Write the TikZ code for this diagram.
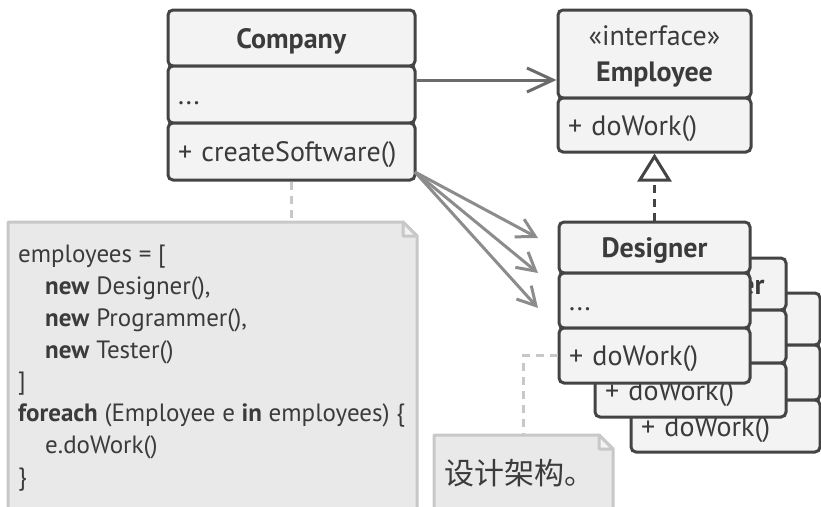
\documentclass[tikz,border=0pt]{standalone}
\usepackage{fontspec}
\setmainfont{PT Sans}
\newfontfamily\cjkfont{Noto Sans CJK SC}
\usetikzlibrary{arrows.meta}
\definecolor{boxfill}{HTML}{F3F3F3}
\definecolor{boxline}{HTML}{444444}
\definecolor{txt}{HTML}{3B3B3B}
\definecolor{arrdark}{HTML}{6B6B6B}
\definecolor{arr}{HTML}{8C8C8C}
\definecolor{notefill}{HTML}{E9E9E9}
\definecolor{noteline}{HTML}{C8C8C8}
\definecolor{foldfill}{HTML}{F2F2F2}
\begin{document}
\begin{tikzpicture}[x=1pt,y=-1pt,
  compbase/.style={draw=boxline, fill=boxfill, line width=3pt, rounded corners=5pt,
    inner sep=0pt, text=txt},
  comp/.style={compbase, font=\fontsize{28}{34}\selectfont, text height=22pt, text depth=2pt},
  lcomp/.style={comp, align=left, text width=#1},
  notebody/.style={draw=noteline, fill=notefill, line width=3pt, line join=round},
  notefold/.style={draw=noteline, fill=foldfill, line width=3pt, line join=round},
  notetext/.style={text=txt, inner sep=0pt, align=left},
  assoc/.style={draw=arrdark, line width=3pt, -{Straight Barb[length=26pt,width=24pt]}},
  assocb/.style={draw=arr, line width=3pt, -{Straight Barb[length=18pt,width=20pt]}},
  realize/.style={draw=boxline, line width=3pt, dash pattern=on 8pt off 6pt,
    -{Triangle[open,fill=white,length=28pt,width=34pt]}},
  notelink/.style={draw=noteline, line width=3pt, dash pattern=on 8pt off 6pt}
]
\useasboundingbox (0,0) rectangle (821,506);

% ---- notes ----
\draw[notebody] (8,520) -- (8,222) -- (403,222) -- (417,236) -- (417,520);
\draw[notefold] (403,222) -- (403,236) -- (417,236) -- cycle;
\coordinate (n1top) at (291.5,222);
\node[notetext, anchor=north west, font=\fontsize{25}{31.8}\selectfont] (code) at (18,245) {%
employees = [\\
\hspace*{27pt}\textbf{new} Designer(),\\
\hspace*{27pt}\textbf{new} Programmer(),\\
\hspace*{27pt}\textbf{new} Tester()\\
]\\
\textbf{foreach} (Employee e \textbf{in} employees) \{\\
\hspace*{27pt}e.doWork()\\
\}};

\draw[notebody] (434,520) -- (434,435) -- (599,435) -- (613,449) -- (613,520);
\draw[notefold] (599,435) -- (599,449) -- (613,449) -- cycle;
\coordinate (n2top) at (523,435);
\node[notetext, anchor=west, font=\cjkfont\fontsize{30}{32}\selectfont] (cn) at (444,473) {设计架构。};

% ---- Company ----
\node[comp, minimum width=247pt, minimum height=56pt] (ct) at (291.5,38) {\textbf{Company}};
\node[lcomp=227pt, minimum width=247pt, minimum height=57pt] (ca) at (291.5,94.5) {...};
\node[lcomp=227pt, minimum width=247pt, minimum height=57pt] (cm) at (291.5,151.5) {+ createSoftware()};

% ---- Employee ----
\node[compbase, minimum width=193pt, minimum height=88pt, align=center,
  font=\fontsize{28}{36}\selectfont] (et) at (654.5,54) {\rule{0pt}{25pt}«interface»\\\textbf{Employee}};
\node[lcomp=173pt, minimum width=193pt, minimum height=54pt] (em) at (654.5,125) {+ doWork()};

% ---- Designer stack (back to front) ----
\node[comp, minimum width=189pt, minimum height=52pt] (t3) at (725.5,319) {};
\node[comp, minimum width=189pt, minimum height=55pt] (a3) at (725.5,372.5) {};
\node[lcomp=169pt, minimum width=189pt, minimum height=52pt] (m3) at (725.5,426) {+ doWork()};

\node[comp, minimum width=191pt, minimum height=52pt] (t2) at (690.5,284) {\textbf{Programmer}};
\node[comp, minimum width=191pt, minimum height=53pt] (a2) at (690.5,336.5) {};
\node[lcomp=171pt, minimum width=191pt, minimum height=54pt] (m2) at (690.5,390) {+ doWork()};

\node[comp, minimum width=191pt, minimum height=51pt] (dt) at (654.5,247.5) {\textbf{Designer}};
\node[lcomp=171pt, minimum width=191pt, minimum height=55pt] (da) at (654.5,300.5) {...};
\node[lcomp=171pt, minimum width=191pt, minimum height=55pt] (dm) at (654.5,355.5) {+ doWork()};

% ---- connectors ----
\draw[assoc] (ca.east |- 0,80) -- (et.west |- 0,80);
\coordinate (src) at (415,172);
\coordinate (d1) at (538,238);
\coordinate (d2) at (538,273);
\coordinate (d3) at (538,308);
\draw[assocb] (src) -- (d1);
\draw[assocb] (src) -- (d2);
\draw[assocb] (src) -- (d3);
\draw[realize] (dt.north) -- (em.south);
\draw[notelink] (cm.south) -- (n1top);
\draw[notelink] (dm.west) -| (n2top);
\end{tikzpicture}
\end{document}
